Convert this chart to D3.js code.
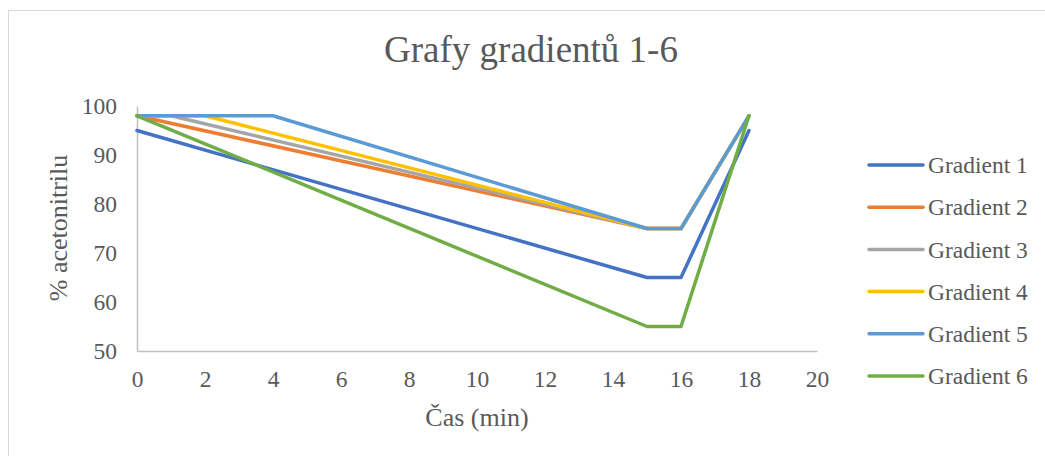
<!DOCTYPE html>
<html>
<head>
<meta charset="utf-8">
<script src="https://cdn.jsdelivr.net/npm/d3@7"></script>
<style>
  body { margin: 0; background: #fff; }
  text { font-family: "Liberation Serif", "Times New Roman", serif; fill: #595959; }
</style>
</head>
<body>
<svg id="chart"></svg>
<script>
// data
const seriesNames = ["Gradient 1", "Gradient 2", "Gradient 3", "Gradient 4", "Gradient 5", "Gradient 6"];
const gradient1 = [[0, 95], [15, 65], [16, 65], [18, 95]];
const gradient2 = [[0, 98], [15, 75], [16, 75], [18, 98]];
const gradient3 = [[0, 98], [1, 98], [15, 75], [16, 75], [18, 98]];
const gradient4 = [[0, 98], [2, 98], [15, 75], [16, 75], [18, 98]];
const gradient5 = [[0, 98], [4, 98], [15, 75], [16, 75], [18, 98]];
const gradient6 = [[0, 98], [15, 55], [16, 55], [18, 98]];
const xTicks = [0, 2, 4, 6, 8, 10, 12, 14, 16, 18, 20];
const yTicks = [50, 60, 70, 80, 90, 100];

const allSeries = [gradient1, gradient2, gradient3, gradient4, gradient5, gradient6];

// excel office colors
const colors = ["#4472C4", "#ED7D31", "#A5A5A5", "#FFC000", "#5B9BD5", "#70AD47"];

const width = 1045;
const height = 456;
const serif = "'Liberation Serif', 'Times New Roman', serif";

const svg = d3.select("#chart")
    .attr("width", width)
    .attr("height", height);

// outer chart border
svg.append("rect")
    .attr("x", 8.5)
    .attr("y", 10.5)
    .attr("width", width)
    .attr("height", height)
    .attr("fill", "none")
    .attr("stroke", "#D9D9D9");

const x = d3.scaleLinear().domain([0, 20]).range([137, 817]);
const y = d3.scaleLinear().domain([50, 100]).range([351, 106]);

// axes
const xAxis = svg.append("g")
    .attr("transform", `translate(0,${y(50)})`)
    .call(d3.axisBottom(x).tickValues(xTicks).tickSize(0).tickPadding(20));

const yAxis = svg.append("g")
    .attr("transform", `translate(${x(0)},0)`)
    .call(d3.axisLeft(y).tickValues(yTicks).tickSize(0).tickPadding(20));

[xAxis, yAxis].forEach(ax => {
    ax.attr("font-family", serif).attr("font-size", 23.5);
    ax.select(".domain").attr("stroke", "#BFBFBF").attr("stroke-width", 1.5);
    ax.selectAll("text").attr("fill", "#595959");
});
xAxis.selectAll("text").attr("dy", "0.7em");

// lines
const line = d3.line()
    .x(d => x(d[0]))
    .y(d => y(d[1]));

svg.append("g")
    .selectAll("path")
    .data(allSeries)
    .enter()
    .append("path")
    .attr("d", line)
    .attr("fill", "none")
    .attr("stroke", (d, i) => colors[i])
    .attr("stroke-width", 3.5)
    .attr("stroke-linejoin", "round")
    .attr("stroke-linecap", "round");

// title
svg.append("text")
    .attr("x", 531)
    .attr("y", 62)
    .attr("text-anchor", "middle")
    .style("font-size", "37px")
    .text("Grafy gradientů 1-6");

// axis titles
svg.append("text")
    .attr("x", 477)
    .attr("y", 426)
    .attr("text-anchor", "middle")
    .style("font-size", "26px")
    .text("Čas (min)");

svg.append("text")
    .attr("transform", "translate(67,228) rotate(-90)")
    .attr("text-anchor", "middle")
    .style("font-size", "26px")
    .text("% acetonitrilu");

// legend
const legend = svg.append("g")
    .selectAll("g")
    .data(seriesNames)
    .enter()
    .append("g")
    .attr("transform", (d, i) => `translate(869,${165 + i * 42.2})`);

legend.append("line")
    .attr("x1", 0)
    .attr("x2", 54)
    .attr("stroke", (d, i) => colors[i])
    .attr("stroke-width", 3.5)
    .attr("stroke-linecap", "round");

legend.append("text")
    .attr("x", 59)
    .attr("dy", "0.35em")
    .style("font-size", "23.5px")
    .text(d => d);
</script>
</body>
</html>
